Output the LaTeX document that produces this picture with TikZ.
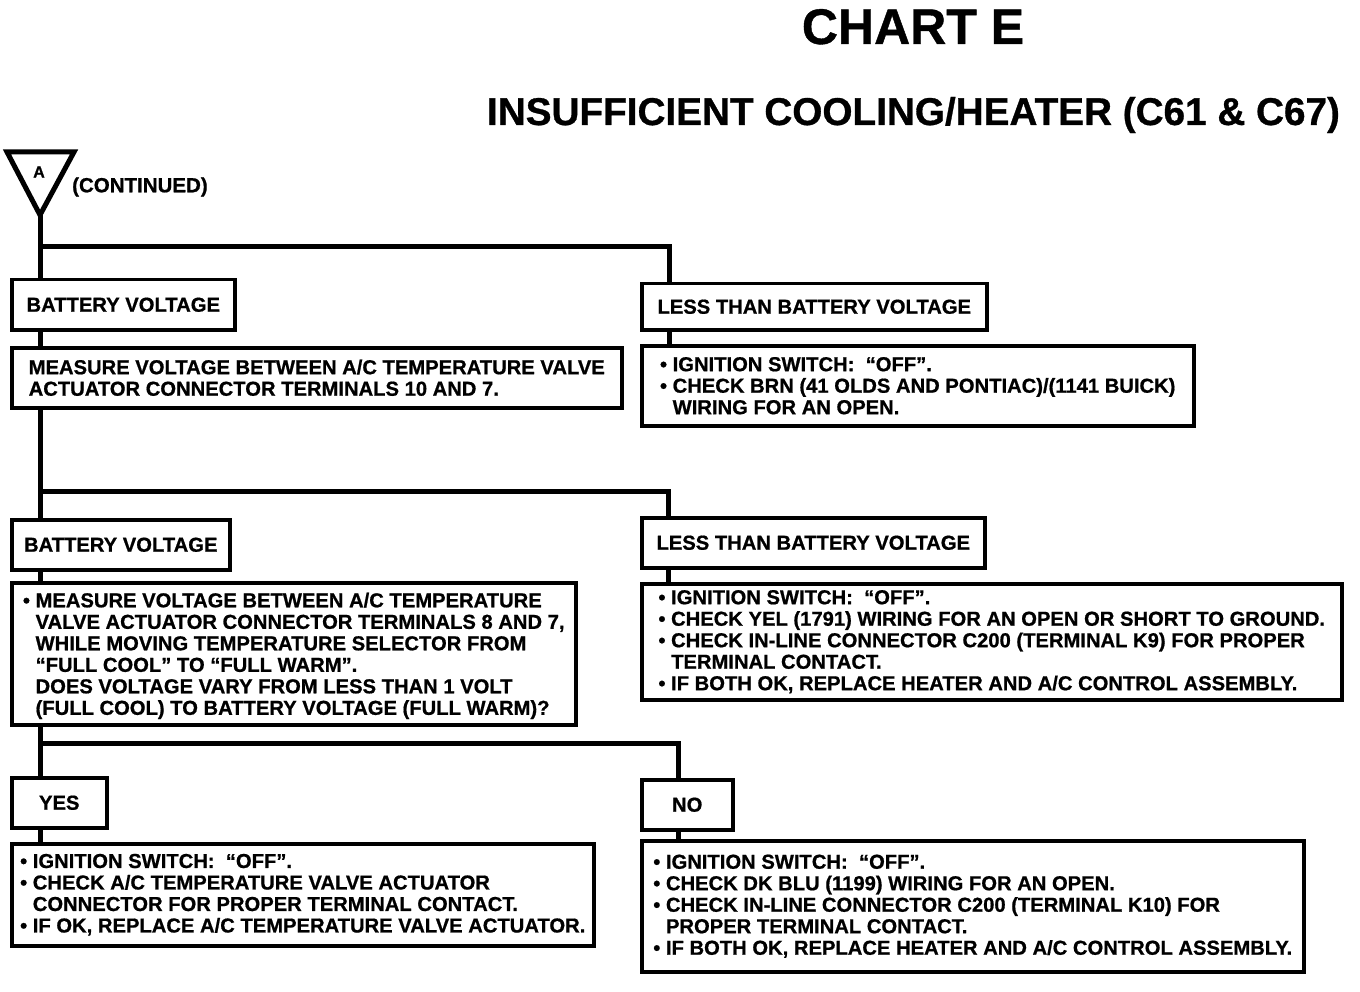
\documentclass[tikz,border=0pt]{standalone}
\usepackage{fontspec}
\setmainfont{Liberation Sans}
\newfontfamily\heavy[FakeBold=0.8]{Liberation Sans Bold}
\newcommand\bul{\textbullet\ }
\newcommand\ind{\hphantom{\textbullet\ }}
\tikzset{
  box/.style={draw, line width=3.5pt, anchor=north west, align=left, inner xsep=4pt, inner ysep=3pt,
    font=\heavy\fontsize{20.2}{21.5}\selectfont},
  conn/.style={line width=5pt, line join=miter},
}
\begin{document}
\begin{tikzpicture}[x=1pt,y=-1pt]
\fill[white] (0,0) rectangle (1360,992);
\useasboundingbox (0,0) rectangle (1360,992);

% titles
\node[anchor=base, font=\heavy\fontsize{50}{50}\selectfont, inner sep=0pt] (title) at (913,44) {CHART E};
\node[anchor=base, font=\heavy\fontsize{38.7}{38.7}\selectfont, inner sep=0pt] (subtitle) at (913.5,125) {INSUFFICIENT COOLING/HEATER (C61 \& C67)};

% triangle marker
\coordinate (tl) at (7,152);
\coordinate (tr) at (74,152);
\coordinate (apex) at (40,215);
\draw[line width=5pt, line join=miter] (tl) -- (tr) -- (apex) -- cycle;
\node[font=\heavy\fontsize{16}{16}\selectfont, inner sep=0pt] (lblA) at (39,172) {A};
\node[anchor=west, font=\heavy\fontsize{20.5}{20.5}\selectfont, inner sep=0pt] (cont) at (72,187) {(CONTINUED)};

% boxes
\node[box, minimum width=223pt, minimum height=50pt] (L1) at (10,278) {BATTERY VOLTAGE};
\node[box, minimum width=610pt, minimum height=60pt] (L2) at (10,346)
  {MEASURE VOLTAGE BETWEEN A/C TEMPERATURE VALVE\\ACTUATOR CONNECTOR TERMINALS 10 AND 7.};
\node[box, minimum width=345pt, minimum height=46pt] (R1) at (640,282) {LESS THAN BATTERY VOLTAGE};
\node[box, minimum width=552pt, minimum height=80pt] (R2) at (640,344)
  {\bul IGNITION SWITCH:\ \ “OFF”.\\\bul CHECK BRN (41 OLDS AND PONTIAC)/(1141 BUICK)\\\ind WIRING FOR AN OPEN.};

\node[box, minimum width=218pt, minimum height=50pt] (L3) at (10,518) {BATTERY VOLTAGE};
\node[box, minimum width=564pt, minimum height=142pt, inner ysep=1pt, text depth=0pt] (L4) at (10,581)
  {\bul MEASURE VOLTAGE BETWEEN A/C TEMPERATURE\\\ind VALVE ACTUATOR CONNECTOR TERMINALS 8 AND 7,\\\ind WHILE MOVING TEMPERATURE SELECTOR FROM\\\ind “FULL COOL” TO “FULL WARM”.\\\ind DOES VOLTAGE VARY FROM LESS THAN 1 VOLT\\\ind (FULL COOL) TO BATTERY VOLTAGE (FULL WARM)?};
\node[box, minimum width=343pt, minimum height=50pt] (R3) at (640,516) {LESS THAN BATTERY VOLTAGE};
\node[box, minimum width=700pt, minimum height=116pt] (R4) at (640,582)
  {\bul IGNITION SWITCH:\ \ “OFF”.\\\bul CHECK YEL (1791) WIRING FOR AN OPEN OR SHORT TO GROUND.\\\bul CHECK IN-LINE CONNECTOR C200 (TERMINAL K9) FOR PROPER\\\ind TERMINAL CONTACT.\\\bul IF BOTH OK, REPLACE HEATER AND A/C CONTROL ASSEMBLY.};

\node[box, minimum width=95pt, minimum height=50pt] (YES) at (10,776) {YES};
\node[box, minimum width=582pt, minimum height=102pt] (L6) at (10,842)
  {\bul IGNITION SWITCH:\ \ “OFF”.\\\bul CHECK A/C TEMPERATURE VALVE ACTUATOR\\\ind CONNECTOR FOR PROPER TERMINAL CONTACT.\\\bul IF OK, REPLACE A/C TEMPERATURE VALVE ACTUATOR.};
\node[box, minimum width=91pt, minimum height=50pt] (NO) at (640,778) {NO};
\node[box, minimum width=662pt, minimum height=131pt] (R6) at (640,839)
  {\bul IGNITION SWITCH:\ \ “OFF”.\\\bul CHECK DK BLU (1199) WIRING FOR AN OPEN.\\\bul CHECK IN-LINE CONNECTOR C200 (TERMINAL K10) FOR\\\ind PROPER TERMINAL CONTACT.\\\bul IF BOTH OK, REPLACE HEATER AND A/C CONTROL ASSEMBLY.};

% spine
\coordinate (sp) at (40,0);
\draw[conn] (apex) -- (sp |- L1.north);
\draw[conn] (sp |- L1.south) -- (sp |- L2.north);
\draw[conn] (sp |- L2.south) -- (sp |- L3.north);
\draw[conn] (sp |- L3.south) -- (sp |- L4.north);
\draw[conn] (sp |- L4.south) -- (sp |- YES.north);
\draw[conn] (sp |- YES.south) -- (sp |- L6.north);

% branches
\coordinate (j1) at (40,247);
\coordinate (k1) at (669,247);
\draw[conn] (j1) -- (k1) -- (k1 |- R1.north);
\draw[conn] (k1 |- R1.south) -- (k1 |- R2.north);

\coordinate (j2) at (40,491);
\coordinate (k2) at (668,491);
\draw[conn] (j2) -- (k2) -- (k2 |- R3.north);
\draw[conn] (k2 |- R3.south) -- (k2 |- R4.north);

\coordinate (j3) at (40,743);
\coordinate (k3) at (678,743);
\draw[conn] (j3) -- (k3) -- (k3 |- NO.north);
\draw[conn] (k3 |- NO.south) -- (k3 |- R6.north);
\end{tikzpicture}
\end{document}
